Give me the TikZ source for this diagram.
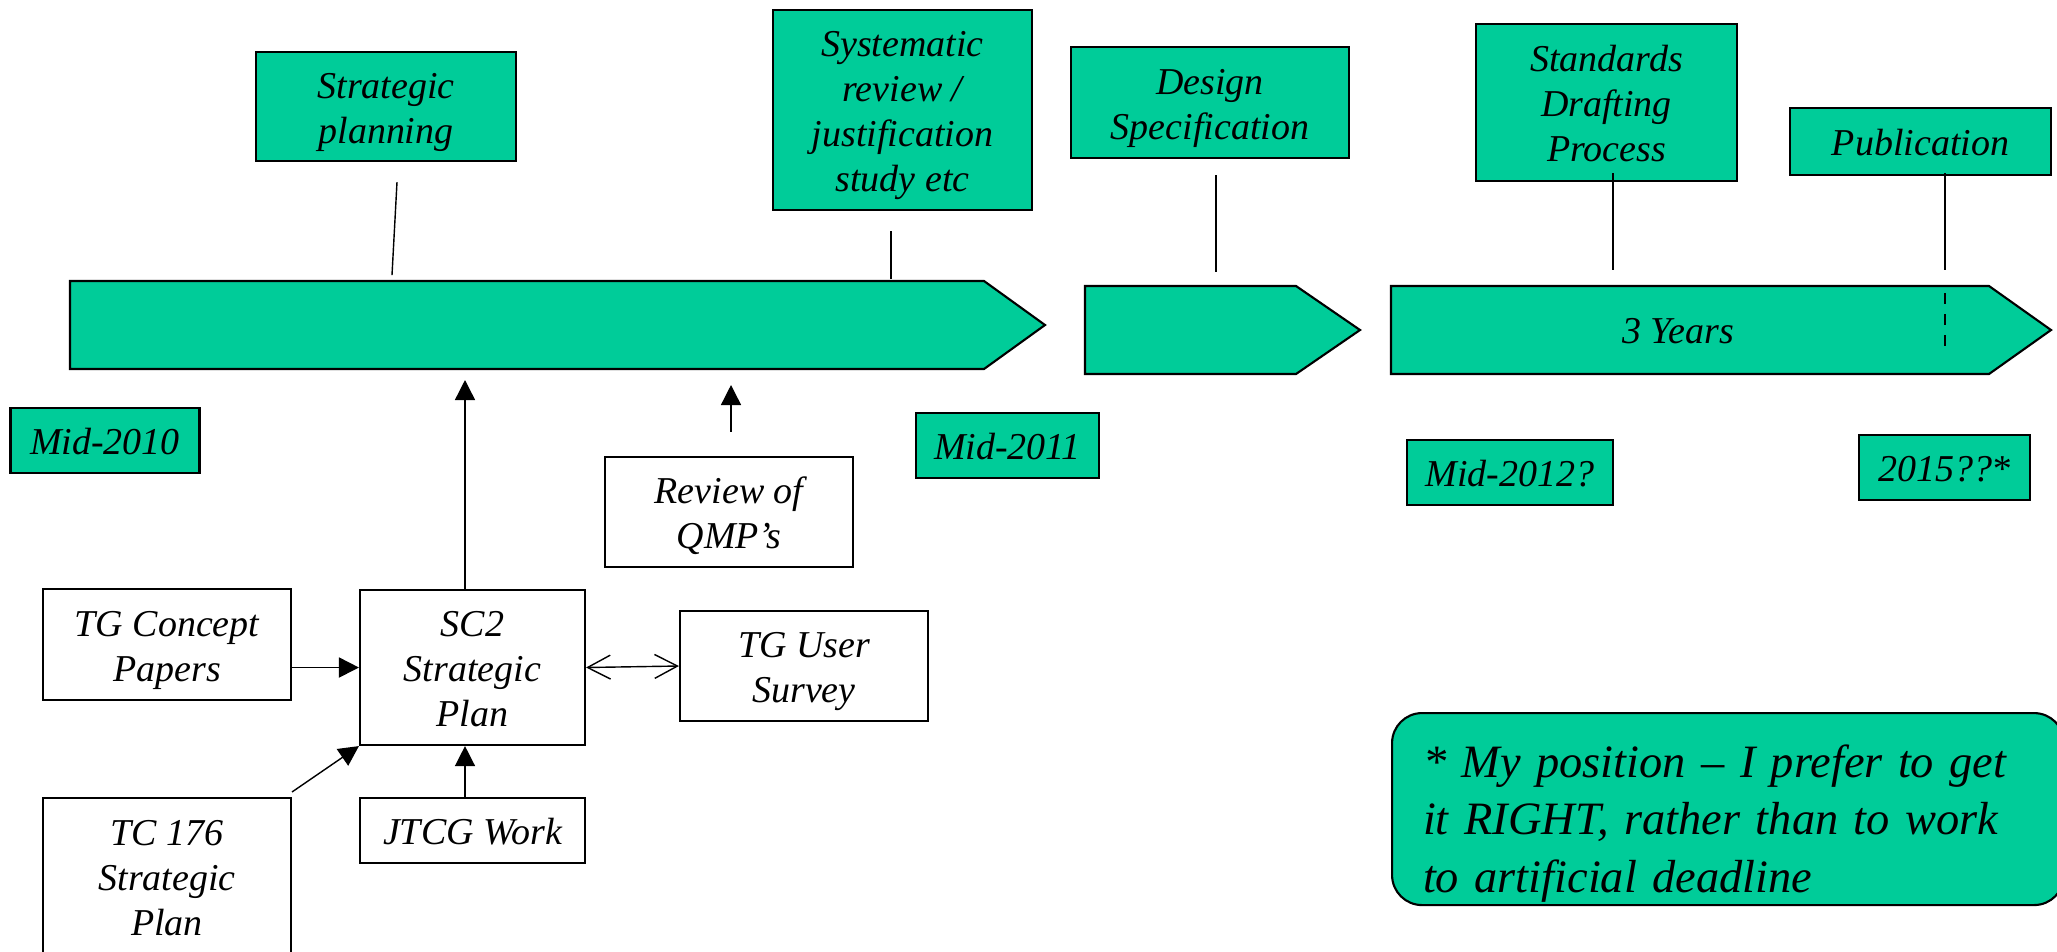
\documentclass[tikz,border=0pt]{standalone}
\usepackage{fontspec}
\setmainfont{Liberation Serif}
\usetikzlibrary{arrows.meta}
\definecolor{planGreen}{HTML}{00CC99}
\newcommand{\upstrut}{\rule{0pt}{10.4pt}}
\newcommand{\dnstrut}{\rule[-2.2pt]{0pt}{2.2pt}}
\tikzset{>={Triangle[length=5.7pt,width=5.7pt]}}
\tikzset{
  gbox/.style={draw=black, line width=0.6pt, fill=planGreen, align=center, inner sep=0pt,
    font=\fontsize{10.8}{12.8}\selectfont\itshape},
  wbox/.style={gbox, fill=white},
  bar/.style={draw=black, line width=0.6pt, fill=planGreen},
  tick/.style={draw=black, line width=0.4pt}
}

\begin{document}
\begin{tikzpicture}[x=0.1mm, y=-0.1mm]
        \useasboundingbox (0,0) rectangle (2057,951);
        \clip (0,0) rectangle (2057,951);

        % time bars
        \draw[bar] (70,281) -- (984,281) -- (1045,325) -- (984,369) -- (70,369) -- cycle;
        \draw[bar] (1085,286) -- (1296,286) -- (1360,330) -- (1296,374) -- (1085,374) -- cycle;
        \draw[bar] (1391,286) -- (1989,286) -- (2051,330) -- (1989,374) -- (1391,374) -- cycle;
        \node[font=\fontsize{10.8}{12.8}\selectfont\itshape] (years) at (1678,331) {3 Years};
        \draw[tick, dashed] (1945,293) -- (1945,356);

        % phases
        \node[gbox, minimum width=26mm, minimum height=10.9mm] (strat) at (386,106.5) {\upstrut Strategic\\planning\dnstrut};
        \node[gbox, minimum width=25.9mm, minimum height=20mm] (sysrev) at (902.5,110) {\upstrut Systematic\\review /\\justification\\study etc\dnstrut};
        \node[gbox, minimum width=27.8mm, minimum height=11.1mm] (design) at (1210,102.5) {\upstrut Design\\Specification\dnstrut};
        \node[gbox, minimum width=26.1mm, minimum height=15.7mm] (draft) at (1606.5,102.5) {\upstrut Standards\\Drafting\\Process\dnstrut};
        \node[gbox, minimum width=26.1mm, minimum height=6.7mm] (pub) at (1920.5,141.5) {\upstrut Publication\dnstrut};

        \draw[tick] (strat.south) ++(11,20) -- ++(-5,93);
        \draw[tick] (sysrev.south) ++(-11.5,20) -- ++(0,48);
        \draw[tick] (design.south) ++(6,16) -- ++(0,97);
        \draw[tick] (draft.south) ++(6.5,-9) -- ++(0,97);
        \draw[tick] (pub.south) ++(24.5,-3) -- ++(0,97);

        % dates
        \node[gbox, minimum width=18.9mm, minimum height=6.5mm] (d2010) at (105,440.5) {\upstrut Mid-2010\dnstrut};
        \node[gbox, minimum width=18.3mm, minimum height=6.5mm] (d2011) at (1007.5,445.5) {\upstrut Mid-2011\dnstrut};
        \node[gbox, minimum width=20.6mm, minimum height=6.5mm] (d2012) at (1510,472.5) {\upstrut Mid-2012?\dnstrut};
        \node[gbox, minimum width=17.1mm, minimum height=6.5mm] (d2015) at (1944.5,467.5) {\upstrut 2015??*\dnstrut};

        % inputs
        \node[wbox, minimum width=24.8mm, minimum height=11mm] (qmp) at (729,512) {\upstrut Review of\\QMP's\dnstrut};
        \node[wbox, minimum width=24.8mm, minimum height=11.1mm] (tgc) at (167,644.5) {\upstrut TG Concept\\Papers\dnstrut};
        \node[wbox, minimum width=22.5mm, minimum height=15.5mm] (sc2) at (472.5,667.5) {\upstrut SC2\\Strategic\\Plan\dnstrut};
        \node[wbox, minimum width=24.8mm, minimum height=11mm] (tgu) at (804,666) {\upstrut TG User\\Survey\dnstrut};
        \node[wbox, minimum width=24.8mm, minimum height=15.6mm] (tc) at (167,876) {\upstrut TC 176\\Strategic\\Plan\dnstrut};
        \node[wbox, minimum width=22.5mm, minimum height=6.5mm] (jtcg) at (472.5,830.5) {\upstrut JTCG Work\dnstrut};

        \coordinate (in1) at (465,380);
        \coordinate (in2) at (731,385);
        \draw[->, line width=0.4pt] (sc2.north -| in1) -- (in1);
        \draw[->, line width=0.4pt] (qmp.north -| in2) ++(0,-24) -- (in2);
        \draw[->, line width=0.5pt] (tgc.east |- sc2.west) -- (sc2.west);
        \draw[->, line width=0.4pt] (tc.north east) ++(0,-5) -- (sc2.south west);
        \draw[->, line width=0.4pt] (jtcg.north -| in1) -- (sc2.south -| in1);
        \draw[{Straight Barb[length=6.5pt,width=6.8pt]}-{Straight Barb[length=6.5pt,width=6.8pt]}, line width=0.4pt] (sc2.east) -- (tgu.west);

        % note
        \node[draw=black, line width=0.6pt, fill=planGreen, rounded corners=3mm, anchor=north west,
          minimum width=66mm, minimum height=19.2mm, text width=61mm, inner xsep=3.1mm, inner ysep=0pt,
          align=left, font=\fontsize{13.2}{16.4}\selectfont\itshape] (note) at (1391,712)
          {\rule{0pt}{17.5pt}* My position -- I prefer to get\\it RIGHT, rather than to work\\to artificial deadline};
    \end{tikzpicture}
\end{document}
